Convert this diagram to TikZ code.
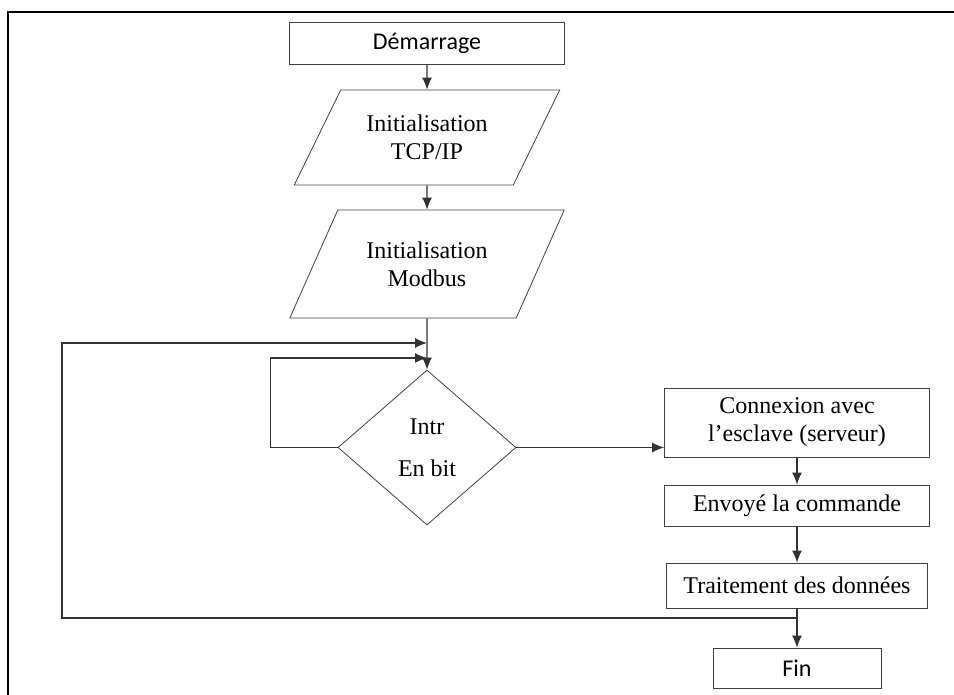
\documentclass[tikz,border=0pt]{standalone}
\usepackage{fontspec}
\setmainfont{Liberation Serif}
\newfontfamily\calibri{Carlito}
\usetikzlibrary{shapes.geometric, arrows.meta}
\begin{document}
\begin{tikzpicture}[
  x=0.5pt, y=-0.5pt,
  every node/.style={font=\fontsize{12}{14}\selectfont},
  procbox/.style={rectangle, draw=black!75, minimum width=#1, inner sep=2pt, align=center},
  startbox/.style={rectangle, draw=black!75, minimum width=#1, minimum height=21pt, inner sep=0pt, font=\calibri\fontsize{12}{14}\selectfont},
  iobox/.style={trapezium, trapezium left angle=54, trapezium right angle=126, trapezium stretches=true, draw=black!75, inner sep=0pt, align=center},
  testbox/.style={diamond, draw=black!75, minimum width=89pt, minimum height=77.5pt, inner sep=0pt, align=center},
  line/.style={draw=black!80, line width=0.6pt},
  -{Latex[length=6pt, width=5pt]},
]
  \useasboundingbox (0,0) rectangle (954,695);
  \draw[-, line width=0.8pt] (8,695) -- (8,12) -- (954,12);

  \node[startbox=137.5pt] (dem) at (427,43) {Démarrage};
  \node[iobox, minimum width=133pt, minimum height=47.5pt] (tcp) at (427,137.5) {Initialisation\\TCP/IP};
  \node[iobox, minimum width=137.5pt, minimum height=54pt] (mod) at (427,264) {Initialisation\\Modbus};
  \node[testbox] (intr) at (427,447.5) {Intr\\[7pt]En bit};
  \node[procbox=132.5pt, minimum height=34.5pt] (conn) at (797,422.5) {Connexion avec\\l’esclave (serveur)};
  \node[procbox=132.5pt, minimum height=20.5pt] (env) at (797,505.5) {Envoyé la commande};
  \node[procbox=130.5pt, minimum height=22.5pt] (trait) at (797,585.5) {Traitement des données};
  \node[startbox=84pt, minimum height=20pt] (fin) at (797,668) {Fin};

  \coordinate (in1) at (427,358);
  \coordinate (in2) at (427,343);
  \coordinate (join) at (797,618);

  \draw[line] (dem) -- (tcp);
  \draw[line] (tcp) -- (mod);
  \draw[line] (mod) -- (intr);
  \draw[line] (intr.west) -- ++(-67,0) |- (in1);
  \draw[line] (intr.east) -- (intr.east -| conn.west);
  \draw[line] (conn) -- (env);
  \draw[line] (env) -- (trait);
  \draw[line, -] (trait) -- (join);
  \draw[line] (join) -- (fin);
  \draw[line] (join) -- ++(-735,0) |- (in2);
\end{tikzpicture}
\end{document}
